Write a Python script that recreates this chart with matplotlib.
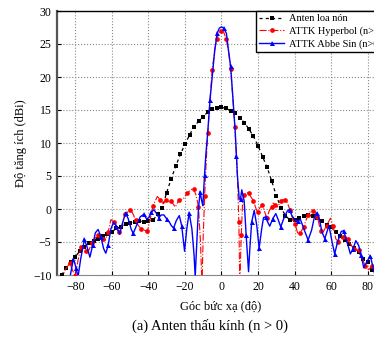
import matplotlib
matplotlib.use("Agg")
from matplotlib import pyplot as plt

plt.rcParams['font.family'] = ['Liberation Serif', 'DejaVu Serif']

# Horn antenna (black squares)
horn_ang = [-87.5, -85, -82.5, -80, -77.5, -75, -72.5, -70, -67.5, -65, -62.5, -60,
            -57.5, -55, -52.5, -50, -47.5, -45, -42.5, -40, -37.5, -35, -32.5, -30,
            -27.5, -25, -22.5, -20, -17.5, -15, -12.5, -10, -7.5, -5, -2.5, 0,
            2.5, 5, 7.5, 10, 12.5, 15, 17.5, 20, 22.5, 25, 27.5, 30,
            32.5, 35, 37.5, 40, 42.5, 45, 47.5, 50, 52.5, 55, 57.5, 60,
            62.5, 65, 67.5, 70, 72.5, 75, 77.5, 80, 82.5]
horn_gain = [-10.0, -9.0, -8.0, -7.2, -6.4, -5.7, -5.2, -4.8, -4.5, -4.1, -3.8, -3.5,
             -2.9, -2.7, -2.3, -2.1, -2.0, -1.8, -1.9, -1.8, -1.7, -0.8, 0.1, 2.5,
             4.6, 6.5, 8.3, 9.8, 11.2, 12.5, 13.3, 14.0, 14.7, 15.1, 15.35, 15.4,
             15.25, 14.9, 14.5, 13.8, 13.1, 12.1, 11.0, 9.6, 7.9, 6.3, 4.2, 2.0,
             0.2, -1.0, -1.7, -1.6, -1.3, -1.1, -0.95, -1.05, -1.3, -1.8, -2.4, -2.8,
             -3.5, -4.1, -4.65, -5.25, -5.9, -6.5, -7.6, -8.1, -9.2]

# Hyperbolic lens (red circles)
hyp_ang = [-88, -85.5, -83, -81.5, -80, -78.5, -77, -75.5, -74, -72.5, -71, -69.5,
           -67.8, -66.3, -65, -63.5, -62, -60.5, -59, -57.5, -56, -54.5, -53, -51.5,
           -49.8, -48.3, -47, -45.5, -44, -42.5, -40.5, -39, -37.5, -35.1, -33.5, -31.9,
           -30.3, -28.8, -27.5, -25.3, -23.1, -21, -18.7, -17, -15.3, -13.8, -12.6, -11.5,
           -10.7, -10.0, -9.2, -8.5, -7.5, -6.3, -5.1, -3.8, -2.5, -1.2, 0,
           1.2, 2.5, 3.8, 5, 6.2, 7.3, 8.7, 9.5, 10, 10.8, 11.6, 12.4, 14, 14.8,
           16.2, 17.5, 18.7, 19.7, 21, 22.4, 23.6, 24.8, 26.2, 27.5, 28.2, 29.5,
           30.8, 32.4, 33.5, 34.8, 36, 37.5, 39, 40.3, 41.7, 42.8, 44, 45,
           46.5, 47.5, 48.6, 50, 51.5, 52.5, 53.5, 54.5, 55.8, 57.5, 59.6, 61,
           62.5, 64, 65, 66.5, 67.8, 69, 70.5, 72.3, 73.8, 75.3, 77, 78.7,
           80.5, 82.3, 84]
hyp_gain = [-11, -9.2, -8.2, -9.3, -10.2, -7.8, -5.8, -5.8, -6.3, -6.2, -5.2, -4.6,
            -4.0, -4.3, -4.5, -4.7, -3.5, -1.6, -2.0, -3.0, -3.5, -2.5, -0.8, -0.5,
            -0.1, -0.8, -1.7, -2.5, -3.0, -3.2, -3.3, -1.5, 0.5, 1.9, 1.4, 0.8,
            1.4, 1.1, 1.2, 0.3, 1.4, 1.5, 2.4, 2.9, 3.1, 2.0, 0.3, -5.0,
            -11.5, -4.0, 2.0, 6.5, 11.5, 16.5, 21.0, 24.0, 25.8, 26.8, 27.0,
            26.8, 25.8, 24.0, 21.2, 16.8, 12.5, 5.0, -2.0, -11.5, -4.0, 1.5, 2.1, 2.5, 2.4,
            1.8, 1.2, 0.2, -0.5, 0.2, 0.6, -0.4, -1.4, -0.2, 0.3, 0.9, 0.6,
            0.3, 1.2, 1.4, 1.4, 1.0, -0.2, -1.5, -2.3, -3.7, -3.7, -3.2, -2.7,
            -1.5, -0.9, -0.4, -0.3, -0.6, -1.2, -2.5, -3.4, -3.4, -2.5, -1.4, -2.5,
            -4.5, -5.0, -4.6, -4.3, -4.1, -4.6, -5.3, -6.0, -6.3, -6.2, -7.5, -8.7,
            -9.2, -8.7, -9.8]

# Abbe sine lens (blue triangles)
abbe_ang = [-88, -83, -81, -79.5, -78.5, -77, -75, -73.5, -72, -70.5, -69, -67.5,
            -66, -64.5, -63.3, -62, -60.5, -59, -57.5, -55.7, -54, -52.5, -51, -49.5,
            -48.3, -46.5, -44.5, -42.5, -41, -39.7, -38.3, -37, -35.5, -34.3, -33, -31.5,
            -30, -28.5, -27.5, -26.2, -24.8, -23.1, -21.8, -20.2, -19, -17.7, -16.2, -15,
            -14.4, -13.5, -12.6, -11.7, -10.8, -10.2, -9.3, -8.5, -7.5, -6.3, -5.1, -3.7,
            -2.4, -1.2, 0, 1.2, 2.7, 3.7, 5, 6.2, 7.5, 8.2, 8.7, 9.7,
            10.4, 11.1, 12.4, 13.5, 14.8, 15.5, 16.5, 17.9, 19.3, 20.6, 22, 23,
            24.2, 25.3, 26.4, 28, 29.7, 31, 32.4, 34, 36, 37.3, 38.5, 40.4,
            41.8, 43.2, 45.3, 47.4, 49.3, 51, 52.3, 53.5, 55, 56.5, 58.8, 60.5,
            61.9, 63.5, 65.5, 66.8, 68.5, 70.5, 72, 73.5, 75, 76.5, 77.8, 79.5,
            81.4, 83.3, 84.5]
abbe_gain = [-11, -10.5, -7.5, -9.0, -10.3, -7.5, -4.6, -5.8, -7.3, -5.5, -3.6, -3.1,
             -4.2, -6.0, -6.7, -5.5, -3.0, -2.0, -2.6, -3.8, -2.0, -0.6, -1.5, -3.0,
             -3.7, -2.5, -1.2, -0.8, -1.5, -1.3, -0.5, -0.1, -0.7, -1.3, -0.9, -0.9,
             -1.5, -2.0, -2.5, -2.9, -1.8, -1.0, -2.5, -6.4, -3.0, -0.6, -3.0, -7.0,
             -10.3, -5.0, 0.1, 2.6, 1.2, 0.5, 5.1, 8.5, 11.7, 16.5, 20.0, 24.0,
             26.6, 27.4, 27.6, 27.4, 26.6, 24.3, 21.6, 17.0, 11.7, 8.0, 5.1, 1.5,
             1.5, 2.9, 1.2, -4.0, -9.5, -6.0, -2.0, -0.2, -2.5, -5.9, -3.0, -1.3,
             -1.2, -2.0, -2.6, -1.5, -0.7, -1.6, -2.7, -1.5, -0.3, -0.1, -1.0, -1.7,
             -1.8, -1.6, -3.2, -4.7, -3.2, -1.0, -0.6, -1.5, -3.5, -4.5, -2.5, -5.0,
             -6.8, -5.0, -3.4, -3.3, -4.8, -6.8, -6.0, -4.8, -5.5, -7.0, -8.9, -8.0,
             -7.1, -9.3, -10.5]

fig = plt.figure(figsize=(3.74, 3.39), dpi=100)
ax = fig.add_axes([57/374, 64/339, 329/374, 264/339])

ax.plot(horn_ang, horn_gain, color='black', linestyle=(0, (2.5, 2.5)), linewidth=0.9,
        marker='s', markersize=2.3, markeredgewidth=0, label='Anten loa nón', zorder=3)
ax.plot(hyp_ang, hyp_gain, color='red', linestyle='-.', linewidth=0.8,
        marker='o', markersize=3.4, markeredgewidth=0, markevery=2,
        label='ATTK Hyperbol (n>0)', zorder=4)
ax.plot(abbe_ang, abbe_gain, color='blue', linestyle='-', linewidth=1.0,
        marker='^', markersize=3.6, markeredgewidth=0, markevery=3,
        label='ATTK Abbe Sin (n>0)', zorder=5)

ax.set_xlim(-90, 90)
ax.set_ylim(-10, 30)
ax.set_xticks(range(-80, 81, 20))
ax.set_yticks(range(-10, 31, 5))
ax.grid(True, linestyle=':', color='#888888', linewidth=0.8)
ax.tick_params(direction='in', length=3, labelsize=8.5, pad=4)

ax.spines['left'].set_linewidth(1.6)
ax.spines['left'].set_color('#555555')
ax.spines['bottom'].set_color('#888888')
ax.spines['bottom'].set_linewidth(0.8)
ax.spines['top'].set_linewidth(1.0)

ax.set_ylabel('Độ tăng ích (dBi)', fontsize=9, labelpad=4)
fig.text(221/374, 1 - 306/339, 'Góc bức xạ (độ)', fontsize=9, ha='center', va='center')
fig.text(210/374, 1 - 326/339, '(a) Anten thấu kính (n > 0)', fontsize=10.5,
         ha='center', va='center')

leg = ax.legend(loc='upper right', fontsize=7.5, fancybox=False, framealpha=1,
                edgecolor='black', borderaxespad=0, handlelength=2.4,
                borderpad=0.3, labelspacing=0.3, handletextpad=0.5)
leg.get_frame().set_linewidth(1.0)

plt.savefig('out.png', dpi=100)
